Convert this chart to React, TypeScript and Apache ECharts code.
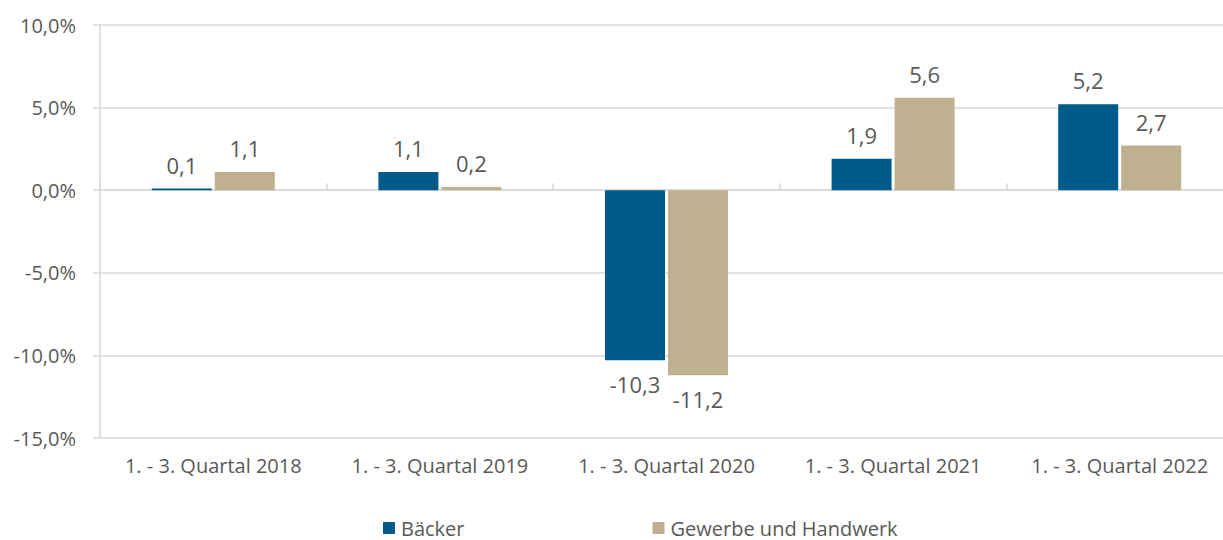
import React, { useEffect, useRef } from "react";
import * as echarts from "echarts";

const categories = [
  "1. - 3. Quartal 2018",
  "1. - 3. Quartal 2019",
  "1. - 3. Quartal 2020",
  "1. - 3. Quartal 2021",
  "1. - 3. Quartal 2022",
];
const baecker = [0.1, 1.1, -10.3, 1.9, 5.2];
const gewerbe = [1.1, 0.2, -11.2, 5.6, 2.7];
const seriesNames = ["Bäcker", "Gewerbe und Handwerk"];
const colors = ["#005B8A", "#BFB190"];

const FONT = "'Open Sans', 'Noto Sans', sans-serif";
const TEXT = "#595959";
const GRID = "#D9D9D9";

const fmt = (v: number) => String(v).replace(".", ",");

function makeData(values: number[]) {
  return values.map((v) => ({
    value: v,
    label: { position: v < 0 ? "bottom" : "top" },
  }));
}

export default function App() {
  const ref = useRef<HTMLDivElement>(null);
  useEffect(() => {
    document.body.style.margin = "0";
    const chart = echarts.init(ref.current!, null, { renderer: "svg" });
    const label = {
      show: true,
      distance: 13,
      fontFamily: FONT,
      fontSize: 22,
      color: TEXT,
      formatter: (p: any) => fmt(p.value),
    };
    chart.setOption({
      animation: false,
      grid: { left: 100, right: 0, top: 25, bottom: 102, containLabel: false },
      legend: {
        top: 513,
        left: 378,
        itemWidth: 12,
        itemHeight: 12,
        itemGap: 188,
        icon: "rect",
        textStyle: { fontFamily: FONT, fontSize: 20, color: TEXT, padding: [0, 0, 0, 1] },
        data: seriesNames,
      },
      xAxis: [
        {
          type: "category",
          data: categories,
          position: "bottom",
          axisLine: { show: false, onZero: false },
          axisTick: { show: false },
          axisLabel: { interval: 0, fontFamily: FONT, fontSize: 20, color: TEXT, margin: 17 },
        },
        {
          type: "category",
          data: categories,
          axisLine: { show: true, onZero: true, lineStyle: { color: GRID, width: 1.5 } },
          axisTick: { show: true, length: 7, lineStyle: { color: GRID, width: 1.5 } },
          axisLabel: { show: false },
        },
      ],
      yAxis: {
        type: "value",
        min: -15,
        max: 10,
        interval: 5,
        axisLine: { show: true, lineStyle: { color: GRID, width: 1.5 } },
        axisTick: { show: true, length: 7, lineStyle: { color: GRID, width: 1.5 } },
        splitLine: { lineStyle: { color: GRID, width: 1.5 } },
        axisLabel: {
          fontFamily: FONT,
          fontSize: 20,
          color: TEXT,
          margin: 24,
          formatter: (v: number) => v.toFixed(1).replace(".", ",") + "%",
        },
      },
      series: [
        {
          name: seriesNames[0],
          type: "bar",
          xAxisIndex: 0,
          data: makeData(baecker),
          barWidth: 60,
          barGap: "5%",
          itemStyle: { color: colors[0] },
          label,
        },
        {
          name: seriesNames[1],
          type: "bar",
          xAxisIndex: 0,
          data: makeData(gewerbe),
          barWidth: 60,
          barGap: "5%",
          itemStyle: { color: colors[1] },
          label,
        },
      ],
    });
    return () => chart.dispose();
  }, []);
  return (
    <div style={{ width: 1223, height: 540, overflow: "hidden", position: "relative" }}>
      <div ref={ref} style={{ width: 1233, height: 540 }} />
    </div>
  );
}
